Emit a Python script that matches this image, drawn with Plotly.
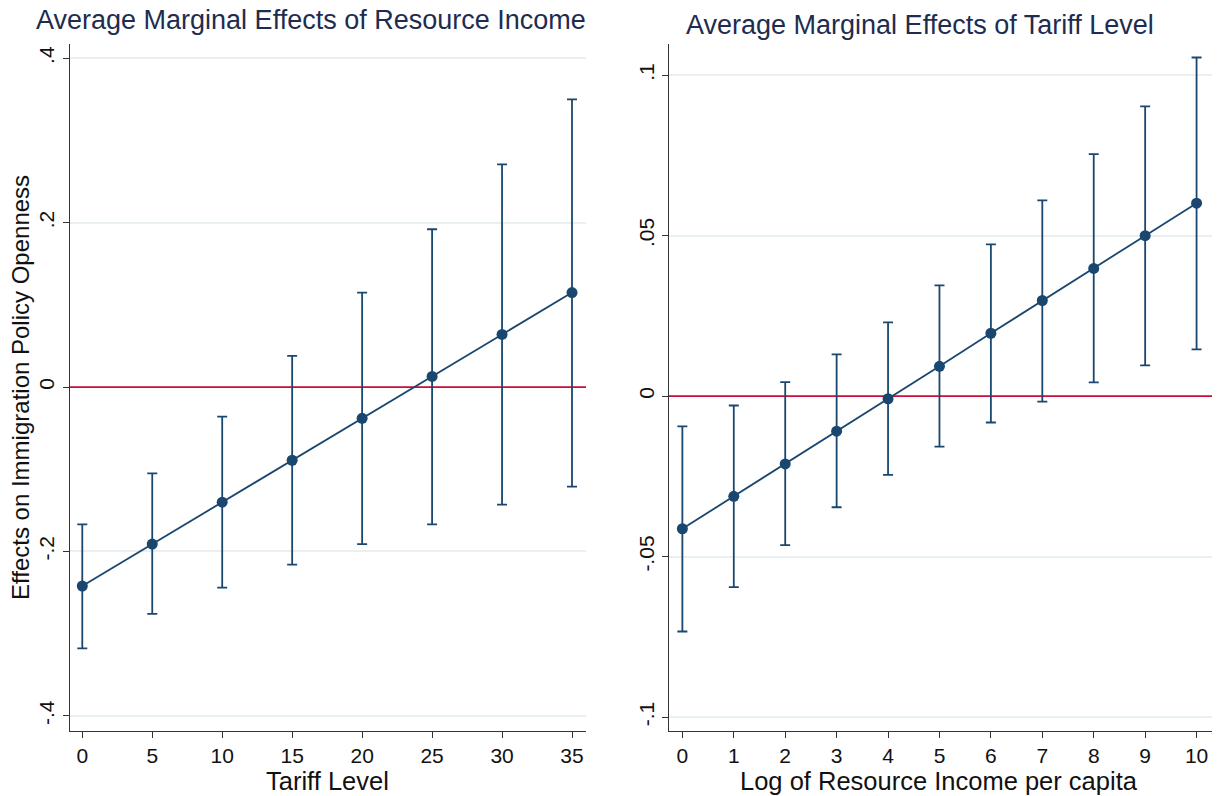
import plotly.graph_objects as go

# Panel A: marginal effect of resource income across tariff levels
tariff = [0, 5, 10, 15, 20, 25, 30, 35]
me_res = [-0.242, -0.191, -0.140, -0.089, -0.038, 0.013, 0.064, 0.115]
me_res_hi = [-0.167, -0.105, -0.036, 0.038, 0.115, 0.192, 0.271, 0.350]
me_res_lo = [-0.318, -0.276, -0.244, -0.216, -0.191, -0.167, -0.143, -0.121]

# Panel B: marginal effect of tariff level across log resource income
log_res = [0, 1, 2, 3, 4, 5, 6, 7, 8, 9, 10]
me_tar = [-0.0413, -0.0312, -0.0211, -0.0109, -0.0008, 0.0093, 0.0196, 0.0298, 0.0398, 0.0500, 0.0601]
me_tar_hi = [-0.0094, -0.0029, 0.0044, 0.0130, 0.0230, 0.0345, 0.0473, 0.0610, 0.0754, 0.0903, 0.1055]
me_tar_lo = [-0.0733, -0.0595, -0.0464, -0.0346, -0.0245, -0.0157, -0.0082, -0.0017, 0.0043, 0.0096, 0.0146]

yticks_a = [-0.4, -0.2, 0, 0.2, 0.4]
yticklabels_a = ["-.4", "-.2", "0", ".2", ".4"]
yticks_b = [-0.1, -0.05, 0, 0.05, 0.1]
yticklabels_b = ["-.1", "-.05", "0", ".05", ".1"]

xrange_a = [-0.9, 36.0]
yrange_a = [-0.4184, 0.4174]
xrange_b = [-0.26, 10.3]
yrange_b = [-0.1043, 0.1097]

NAVY = "#1a476f"
RED = "#c8103a"
GRID = "#e9f0f3"
FONT = "Liberation Sans, Arial, Helvetica, sans-serif"
W, H = 1221, 796


def err(vals, hi, lo):
    return dict(
        type="data", symmetric=False,
        array=[h - v for h, v in zip(hi, vals)],
        arrayminus=[v - l for v, l in zip(vals, lo)],
        color=NAVY, thickness=1.8, width=5,
    )


fig = go.Figure()

# zero reference lines, drawn first so the estimates sit on top
for xa, ya, xr in (("x", "y", xrange_a), ("x2", "y2", xrange_b)):
    fig.add_trace(go.Scatter(
        x=xr, y=[0, 0], mode="lines", xaxis=xa, yaxis=ya,
        line=dict(color=RED, width=1.8), showlegend=False, hoverinfo="skip",
    ))

fig.add_trace(go.Scatter(
    x=tariff, y=me_res, mode="lines+markers", xaxis="x", yaxis="y",
    line=dict(color=NAVY, width=1.8), marker=dict(color=NAVY, size=11),
    error_y=err(me_res, me_res_hi, me_res_lo), showlegend=False,
))
fig.add_trace(go.Scatter(
    x=log_res, y=me_tar, mode="lines+markers", xaxis="x2", yaxis="y2",
    line=dict(color=NAVY, width=1.8), marker=dict(color=NAVY, size=11),
    error_y=err(me_tar, me_tar_hi, me_tar_lo), showlegend=False,
))

ydom = [(H - 731) / H, (H - 44) / H]
axis_common = dict(
    showline=True, linecolor="#333333", linewidth=1.2, mirror=False,
    ticks="outside", ticklen=6, tickwidth=1.2, tickcolor="#333333",
    tickfont=dict(family=FONT, size=21, color="#111111"), zeroline=False,
)

fig.update_layout(
    width=W, height=H, margin=dict(l=0, r=0, t=0, b=0),
    paper_bgcolor="white", plot_bgcolor="white",
    font=dict(family=FONT, color="#111111"),
    xaxis=dict(domain=[69.7 / W, 586 / W], range=xrange_a,
               tickvals=tariff, showgrid=False, anchor="y", **axis_common),
    yaxis=dict(domain=ydom, range=yrange_a, tickvals=yticks_a,
               ticktext=yticklabels_a, tickangle=-90, showgrid=True,
               gridcolor=GRID, gridwidth=1.5, anchor="x", **axis_common),
    xaxis2=dict(domain=[669 / W, 1212 / W], range=xrange_b,
                tickvals=log_res, showgrid=False, anchor="y2", **axis_common),
    yaxis2=dict(domain=ydom, range=yrange_b, tickvals=yticks_b,
                ticktext=yticklabels_b, tickangle=-90, showgrid=True,
                gridcolor=GRID, gridwidth=1.5, anchor="x2", **axis_common),
)

TITLE_COLOR = "#1e2c4f"
annots = [
    dict(text="Average Marginal Effects of Resource Income", x=311 / W, y=1 - 20 / H,
         font=dict(size=27, color=TITLE_COLOR, family=FONT)),
    dict(text="Average Marginal Effects of Tariff Level", x=920 / W, y=1 - 25 / H,
         font=dict(size=27, color=TITLE_COLOR, family=FONT)),
    dict(text="Tariff Level", x=327 / W, y=1 - 781 / H,
         font=dict(size=25.5, color="#111111", family=FONT)),
    dict(text="Log of Resource Income per capita", x=939 / W, y=1 - 781 / H,
         font=dict(size=25.5, color="#111111", family=FONT)),
    dict(text="Effects on Immigration Policy Openness", x=20 / W, y=1 - 388 / H,
         textangle=-90, font=dict(size=24, color="#111111", family=FONT)),
]
for a in annots:
    fig.add_annotation(xref="paper", yref="paper", showarrow=False,
                       xanchor="center", yanchor="middle", **a)

fig.write_html("out.html")
